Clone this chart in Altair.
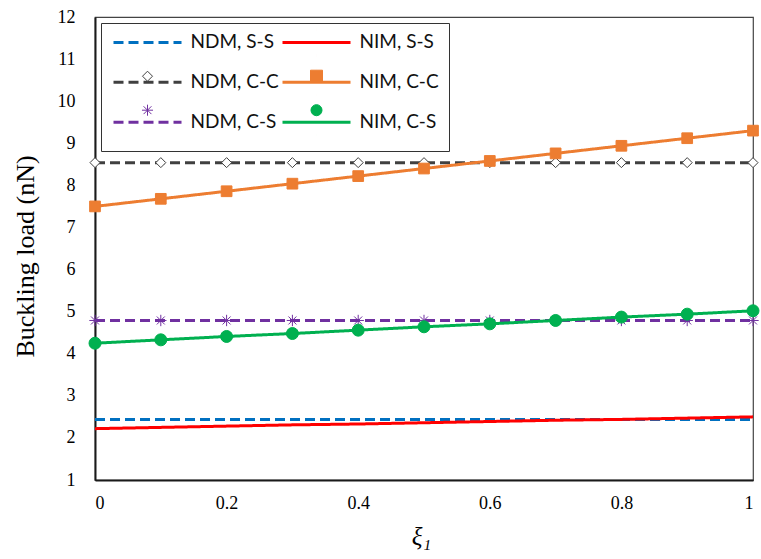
import altair as alt
import pandas as pd

xi = [0.0, 0.1, 0.2, 0.3, 0.4, 0.5, 0.6, 0.7, 0.8, 0.9, 1.0]
ndm_ss = [2.44, 2.44, 2.44, 2.44, 2.44, 2.44, 2.44, 2.44, 2.44, 2.44, 2.44]
nim_ss = [2.22, 2.25, 2.28, 2.31, 2.33, 2.36, 2.39, 2.42, 2.44, 2.47, 2.50]
ndm_cc = [8.54, 8.54, 8.54, 8.54, 8.54, 8.54, 8.54, 8.54, 8.54, 8.54, 8.54]
nim_cc = [7.50, 7.68, 7.86, 8.04, 8.22, 8.40, 8.58, 8.76, 8.94, 9.12, 9.30]
ndm_cs = [4.79, 4.79, 4.79, 4.79, 4.79, 4.79, 4.79, 4.79, 4.79, 4.79, 4.79]
nim_cs = [4.25, 4.33, 4.41, 4.48, 4.56, 4.64, 4.71, 4.79, 4.87, 4.94, 5.02]

series_names = ["NDM, S-S", "NIM, S-S", "NDM, C-C", "NIM, C-C", "NDM, C-S", "NIM, C-S"]
series_values = [ndm_ss, nim_ss, ndm_cc, nim_cc, ndm_cs, nim_cs]
colors = ["#0070C0", "#FF0000", "#404040", "#ED7D31", "#7030A0", "#00B050"]
dashes = [[10, 5], [1, 0], [10, 5], [1, 0], [10, 5], [1, 0]]

# series drawn with markers
marked = ["NDM, C-C", "NIM, C-C", "NDM, C-S", "NIM, C-S"]
marker_colors = ["#404040", "#ED7D31", "#7030A0", "#00B050"]
ASTER = "M-1,0H1M0,-1V1M-0.7,-0.7L0.7,0.7M-0.7,0.7L0.7,-0.7"
marker_shapes = ["diamond", "square", ASTER, "circle"]
marker_size = [100, 144, 120, 110]
marker_sw = [1, 1, 1.5, 1]

y_ticks = [1, 2, 3, 4, 5, 6, 7, 8, 9, 10, 11, 12]
x_ticks = [0, 0.2, 0.4, 0.6, 0.8, 1.0]

rows = []
for name, vals in zip(series_names, series_values):
    for x, v in zip(xi, vals):
        rows.append({"xi": x, "load": v, "series": name})
df = pd.DataFrame(rows)

# marker overlay legend uses a fill scale with reversed domain (kept apart from the colour legend)
fill_domain = series_names[::-1]
fill_range = ["#00B050", "transparent", "#ED7D31", "white", "transparent", "transparent"]


def pt(x, y):
    # an invisible, practically zero-length segment that only extends the symbol's bounds
    return f"M{x},{y}L{x + 0.001},{y}"


# legend symbol paths, unit = 8 px (symbolSize 256)
L1_PATH = pt(0, -1.625) + pt(0, 1.625) + "M-4.25,0H4.25"
L2_BOUND = pt(0, -1.75) + pt(0, 1.75)
leg_markers = {
    "NDM, C-C": L2_BOUND + "M0,-0.625L0.625,0L0,0.625L-0.625,0Z",
    "NIM, C-C": L2_BOUND + "M-0.75,-0.75H0.75V0.75H-0.75Z",
    "NDM, C-S": L2_BOUND + "M-0.69,0H0.69M0,-0.69V0.69M-0.49,-0.49L0.49,0.49M-0.49,0.49L0.49,-0.49",
    "NIM, C-S": L2_BOUND + "M-0.69,0A0.69,0.69,0,1,0,0.69,0A0.69,0.69,0,1,0,-0.69,0Z",
}
leg_stroke = dict(zip(marked, marker_colors))


def pick(mapping, default):
    expr = f"'{default}'"
    for k, v in mapping.items():
        expr = f"(datum.value === '{k}' ? '{v}' : {expr})"
    return alt.ExprRef(expr=expr)


LEG_COMMON = dict(
    columns=2,
    direction="horizontal",
    symbolSize=256,
    symbolOffset=27.3,
    padding=9.7,
    labelFont="Lato",
    labelFontSize=19,
    labelColor="#111",
    labelOffset=33.5,
    labelLimit=300,
    columnPadding=-8,
    rowPadding=1,
    title=None,
)

x_enc = alt.X("xi:Q", scale=alt.Scale(domain=[0, 1], nice=False),
              axis=alt.Axis(values=x_ticks, format="~g", title="ξ₁", labelPadding=14,
                            titleFont="Liberation Serif", titleFontSize=25, titleFontStyle="italic",
                            titleFontWeight="normal", titleX=326, titleY=64,
                            titleBaseline="alphabetic", titleAlign="center"))
y_enc = alt.Y("load:Q", scale=alt.Scale(domain=[1, 12], nice=False),
              axis=alt.Axis(values=y_ticks, title="Buckling load (nN)", labelPadding=20,
                            titleFont="Liberation Serif", titleFontSize=26, titleFontWeight="normal",
                            titleX=-70, titleY=239, titleAngle=270, titleBaseline="middle",
                            titleAlign="center"))

lines = alt.Chart(df).mark_line(strokeWidth=3).encode(
    x=x_enc,
    y=y_enc,
    color=alt.Color("series:N", scale=alt.Scale(domain=series_names, range=colors),
                    legend=alt.Legend(orient="none", legendX=6, legendY=6,
                                      symbolType=L1_PATH,
                                      symbolStrokeWidth=3, strokeColor="#333", **LEG_COMMON)),
    strokeDash=alt.StrokeDash("series:N", scale=alt.Scale(domain=series_names, range=dashes), legend=None),
)

points = alt.Chart(df).transform_filter(
    alt.FieldOneOfPredicate(field="series", oneOf=marked)
).mark_point(opacity=1).encode(
    x="xi:Q",
    y="load:Q",
    shape=alt.Shape("series:N", scale=alt.Scale(domain=marked, range=marker_shapes), legend=None),
    stroke=alt.Stroke("series:N", scale=alt.Scale(domain=marked, range=marker_colors), legend=None),
    fill=alt.Fill("series:N", scale=alt.Scale(domain=fill_domain, range=fill_range),
                  legend=alt.Legend(orient="top-left", offset=6, labelOpacity=0,
                                    values=series_names, **LEG_COMMON,
                                    symbolType=pick(leg_markers, L2_BOUND),
                                    symbolStrokeColor=pick(leg_stroke, "transparent"),
                                    symbolStrokeWidth=1, symbolOpacity=1)),
    size=alt.Size("series:N", scale=alt.Scale(domain=marked, range=marker_size), legend=None),
    strokeWidth=alt.StrokeWidth("series:N", scale=alt.Scale(domain=marked, range=marker_sw), legend=None),
)

chart = alt.layer(lines, points).properties(
    width=658,
    height=463,
    autosize=alt.AutoSizeParams(type="none"),
    padding={"left": 95, "top": 17, "right": 8, "bottom": 79},
    background="white",
).configure_view(
    stroke="#444", strokeWidth=1.2,
).configure_axis(
    grid=False, ticks=False, domainColor="#1a1a1a", domainWidth=2,
    labelFont="Liberation Serif", labelFontSize=18, labelColor="#000",
    titleColor="#000",
)

chart.save("out.html", embed_options={"renderer": "svg", "actions": False})
